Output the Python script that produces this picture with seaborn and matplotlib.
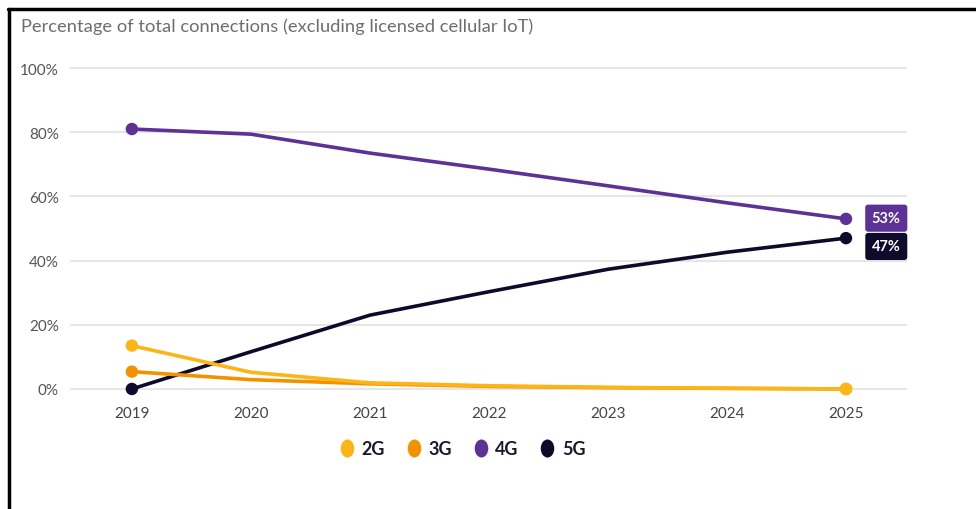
import matplotlib
matplotlib.use("Agg")
import matplotlib.pyplot as plt
from matplotlib.lines import Line2D
from matplotlib.path import Path
from matplotlib.transforms import Affine2D
import seaborn as sns
import pandas as pd

# Share of total connections by network generation (%)
years = [2019, 2020, 2021, 2022, 2023, 2024, 2025]
share_2g = [13.5, 5.2, 1.9, 1.0, 0.5, 0.2, 0.0]
share_3g = [5.4, 2.9, 1.6, 0.8, 0.4, 0.2, 0.0]
share_4g = [81, 79.4, 73.5, 68.5, 63.3, 58, 53]
share_5g = [0, 11.6, 23, 30.3, 37.3, 42.6, 47]
generations = ["2G", "3G", "4G", "5G"]
y_ticks = [0, 20, 40, 60, 80, 100]
title = "Percentage of total connections (excluding licensed cellular IoT)"

colors = {"2G": "#FDB515", "3G": "#F39200", "4G": "#5C3296", "5G": "#0D0A2B"}

df = pd.DataFrame({
    "year": years * 4,
    "share": share_2g + share_3g + share_4g + share_5g,
    "gen": sum([[g] * len(years) for g in generations], []),
})

sns.set_theme(style="white")
plt.rcParams["font.family"] = ["Lato", "DejaVu Sans"]

fig = plt.figure(figsize=(9.76, 5.10), dpi=100)
ax = fig.add_axes([0.0717, 0.2165, 0.8573, 0.667])

# draw order: 5G and 4G under, then 3G, with 2G on top
zorders = {"5G": 3, "4G": 3, "3G": 4, "2G": 5}
for g in ["5G", "4G", "3G", "2G"]:
    sub = df[df["gen"] == g]
    sns.lineplot(data=sub, x="year", y="share", color=colors[g], lw=2.6,
                 ax=ax, zorder=zorders[g], legend=False)
    ends = sub[sub["year"].isin([years[0], years[-1]])]
    sns.scatterplot(data=ends, x="year", y="share", color=colors[g], s=80,
                    edgecolor="none", ax=ax, zorder=zorders[g] + 0.5,
                    legend=False, clip_on=False)

ax.set_xlim(2018.48, 2025.51)
ax.set_ylim(-3, 103)
ax.set_yticks(y_ticks)
ax.set_yticklabels([f"{v}%" for v in y_ticks])
ax.set_xticks(years)
ax.set_xticklabels([str(y) for y in years])
ax.set_xlabel("")
ax.set_ylabel("")
for s in ax.spines.values():
    s.set_visible(False)
ax.grid(axis="y", color="#e6e6e6", lw=1.5)
ax.grid(axis="x", visible=False)
ax.tick_params(axis="y", labelsize=11, colors="#555555", length=0, pad=8)
ax.tick_params(axis="x", labelsize=11, colors="#444444", length=0, pad=5)

# end-value badges
badge_offsets = {"4G": 0.5, "5G": -6}
for g, vals in [("4G", share_4g), ("5G", share_5g)]:
    ax.annotate(f"{vals[-1]:.0f}%", xy=(years[-1], vals[-1]),
                xytext=(29, badge_offsets[g]),
                textcoords="offset points", ha="center", va="center",
                color="white", fontsize=10.5, fontweight="bold",
                bbox=dict(boxstyle="round,pad=0.45,rounding_size=0.2",
                          fc=colors[g], ec="none"),
                annotation_clip=False)

# legend with slightly tall oval swatches
oval = Path.unit_circle().transformed(Affine2D().scale(0.75, 1.0))
handles = [Line2D([0], [0], marker=oval, ls="none", markersize=13,
                  markerfacecolor=colors[g], markeredgecolor="none")
           for g in generations]
leg = fig.legend(handles, generations, loc="center", bbox_to_anchor=(0.472, 0.118),
                 ncol=4, frameon=False, handletextpad=0.2, columnspacing=1.0,
                 handlelength=1.2, prop={"size": 13, "weight": "bold"})
for t in leg.get_texts():
    t.set_color("#1a1a2e")

fig.text(0.022, 0.947, title, fontsize=13.2, color="#6e6e6e", ha="left", va="center")

# frame edges along the top and left
fig.add_artist(Line2D([0.008, 1.0], [0.981, 0.981], color="black", lw=2.5,
                      transform=fig.transFigure))
fig.add_artist(Line2D([0.009, 0.009], [0.0, 0.981], color="black", lw=2.5,
                      transform=fig.transFigure))

fig.savefig("out.png", dpi=100, facecolor="white")
